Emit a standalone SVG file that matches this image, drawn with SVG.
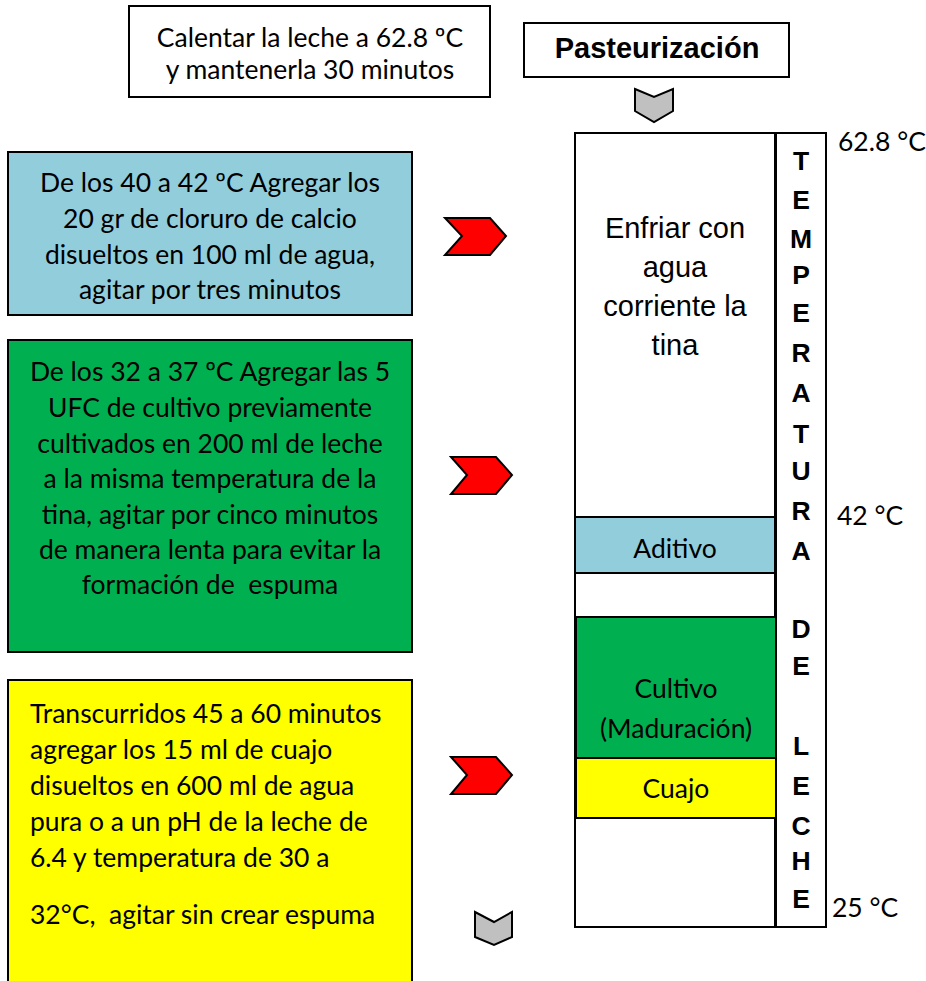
<svg xmlns="http://www.w3.org/2000/svg" width="926" height="981" viewBox="0 0 926 981">
<style>
.box{stroke:#000;stroke-width:2}
.c{font-family:Lato,"Liberation Sans",sans-serif;font-size:26.5px;fill:#000}
.a{font-family:"Liberation Sans",Arial,sans-serif;fill:#000}
.b{font-family:"Liberation Sans",Arial,sans-serif;font-weight:bold;font-size:26.5px;fill:#000}
.red{fill:#FF0000;stroke:#000;stroke-width:2;stroke-linejoin:miter}
.gray{fill:#C0C0C0;stroke:#000;stroke-width:2}
</style>
<rect width="926" height="981" fill="#fff"/>
<g id="calentar">
<rect class="box" x="129" y="6" width="361" height="91" fill="#fff"/>
<text class="c" font-size="27" text-anchor="middle" x="310" y="47">Calentar la leche a 62.8 ºC</text>
<text class="c" font-size="27" text-anchor="middle" x="310" y="79">y mantenerla 30 minutos</text>
</g>
<g id="pasteurizacion">
<rect class="box" x="524" y="23" width="265" height="54" fill="#fff"/>
<text class="a" font-weight="bold" font-size="29" text-anchor="middle" x="657" y="58">Pasteurización</text>
</g>
<g id="aditivo-box">
<rect class="box" x="8" y="152" width="404" height="163" fill="#92CDDC"/>
<text class="c" text-anchor="middle" x="210" y="192">De los 40 a 42 ºC Agregar los</text>
<text class="c" text-anchor="middle" x="210" y="228">20 gr de cloruro de calcio</text>
<text class="c" text-anchor="middle" x="210" y="264">disueltos en 100 ml de agua,</text>
<text class="c" text-anchor="middle" x="210" y="299">agitar por tres minutos</text>
</g>
<g id="cultivo-box">
<rect class="box" x="8" y="340" width="404" height="312" fill="#00B050"/>
<text class="c" text-anchor="middle" x="210" y="381">De los 32 a 37 ºC Agregar las 5</text>
<text class="c" text-anchor="middle" x="210" y="417">UFC de cultivo previamente</text>
<text class="c" text-anchor="middle" x="210" y="453">cultivados en 200 ml de leche</text>
<text class="c" text-anchor="middle" x="210" y="488">a la misma temperatura de la</text>
<text class="c" text-anchor="middle" x="210" y="524">tina, agitar por cinco minutos</text>
<text class="c" text-anchor="middle" x="210" y="559">de manera lenta para evitar la</text>
<text class="c" text-anchor="middle" x="210" y="594" xml:space="preserve">formación de  espuma</text>
</g>
<g id="cuajo-box">
<rect class="box" x="8" y="680" width="404" height="310" fill="#FFFF00"/>
<text class="c" x="30" y="723">Transcurridos 45 a 60 minutos</text>
<text class="c" x="30" y="759">agregar los 15 ml de cuajo</text>
<text class="c" x="30" y="795">disueltos en 600 ml de agua</text>
<text class="c" x="30" y="831">pura o a un pH de la leche de</text>
<text class="c" x="30" y="867">6.4 y temperatura de 30 a</text>
<text class="c" x="30" y="924" xml:space="preserve">32°C,  agitar sin crear espuma</text>
</g>
<g id="tina">
<rect class="box" x="575" y="133" width="200" height="794" fill="#fff"/>
<text class="a" font-size="29" text-anchor="middle" x="675" y="238">Enfriar con</text>
<text class="a" font-size="29" text-anchor="middle" x="675" y="277">agua</text>
<text class="a" font-size="29" text-anchor="middle" x="675" y="316">corriente la</text>
<text class="a" font-size="29" text-anchor="middle" x="675" y="355">tina</text>
</g>
<g id="aditivo">
<rect class="box" x="575" y="517" width="200" height="56" fill="#92CDDC"/>
<text class="c" font-size="27" text-anchor="middle" x="675" y="558">Aditivo</text>
</g>
<g id="cultivo">
<rect class="box" x="576" y="617" width="200" height="141" fill="#00B050"/>
<text class="c" font-size="27" text-anchor="middle" x="676" y="698">Cultivo</text>
<text class="c" font-size="22.5" text-anchor="middle" x="676" y="738">(Maduración)</text>
</g>
<g id="cuajo">
<rect class="box" x="576" y="758" width="200" height="60" fill="#FFFF00"/>
<text class="c" font-size="27" text-anchor="middle" x="676" y="798">Cuajo</text>
</g>
<g id="temperatura">
<rect class="box" x="776" y="133" width="50" height="794" fill="#fff"/>
<g class="b" text-anchor="middle">
<text x="801" y="170">T</text>
<text x="801" y="209">E</text>
<text x="801" y="248">M</text>
<text x="801" y="284">P</text>
<text x="801" y="322">E</text>
<text x="801" y="362">R</text>
<text x="801" y="402">A</text>
<text x="801" y="443">T</text>
<text x="801" y="480">U</text>
<text x="801" y="520">R</text>
<text x="801" y="560">A</text>
<text x="801" y="638">D</text>
<text x="801" y="675">E</text>
<text x="801" y="755">L</text>
<text x="801" y="795">E</text>
<text x="801" y="835">C</text>
<text x="801" y="870">H</text>
<text x="801" y="908">E</text>
</g>
</g>
<g id="labels">
<text class="c" font-size="25" x="838" y="151">62.8 °C</text>
<text class="c" font-size="25" x="837" y="525">42 °C</text>
<text class="c" font-size="25" x="832" y="917">25 °C</text>
</g>
<g id="connectors">
<polygon class="gray" points="635,89 654,97 673,89 673,111 654,122 635,111"/>
<polygon class="red" points="445,218 490,218 506,236 490,255 445,255 462,236"/>
<polygon class="red" points="451,457 496,457 512,475 496,494 451,494 467,475"/>
<polygon class="red" points="451,757 496,757 512,775 496,794 451,794 467,775"/>
<polygon class="gray" points="475,912 494,922 512,912 512,937 494,945 475,937"/>
</g>
</svg>
